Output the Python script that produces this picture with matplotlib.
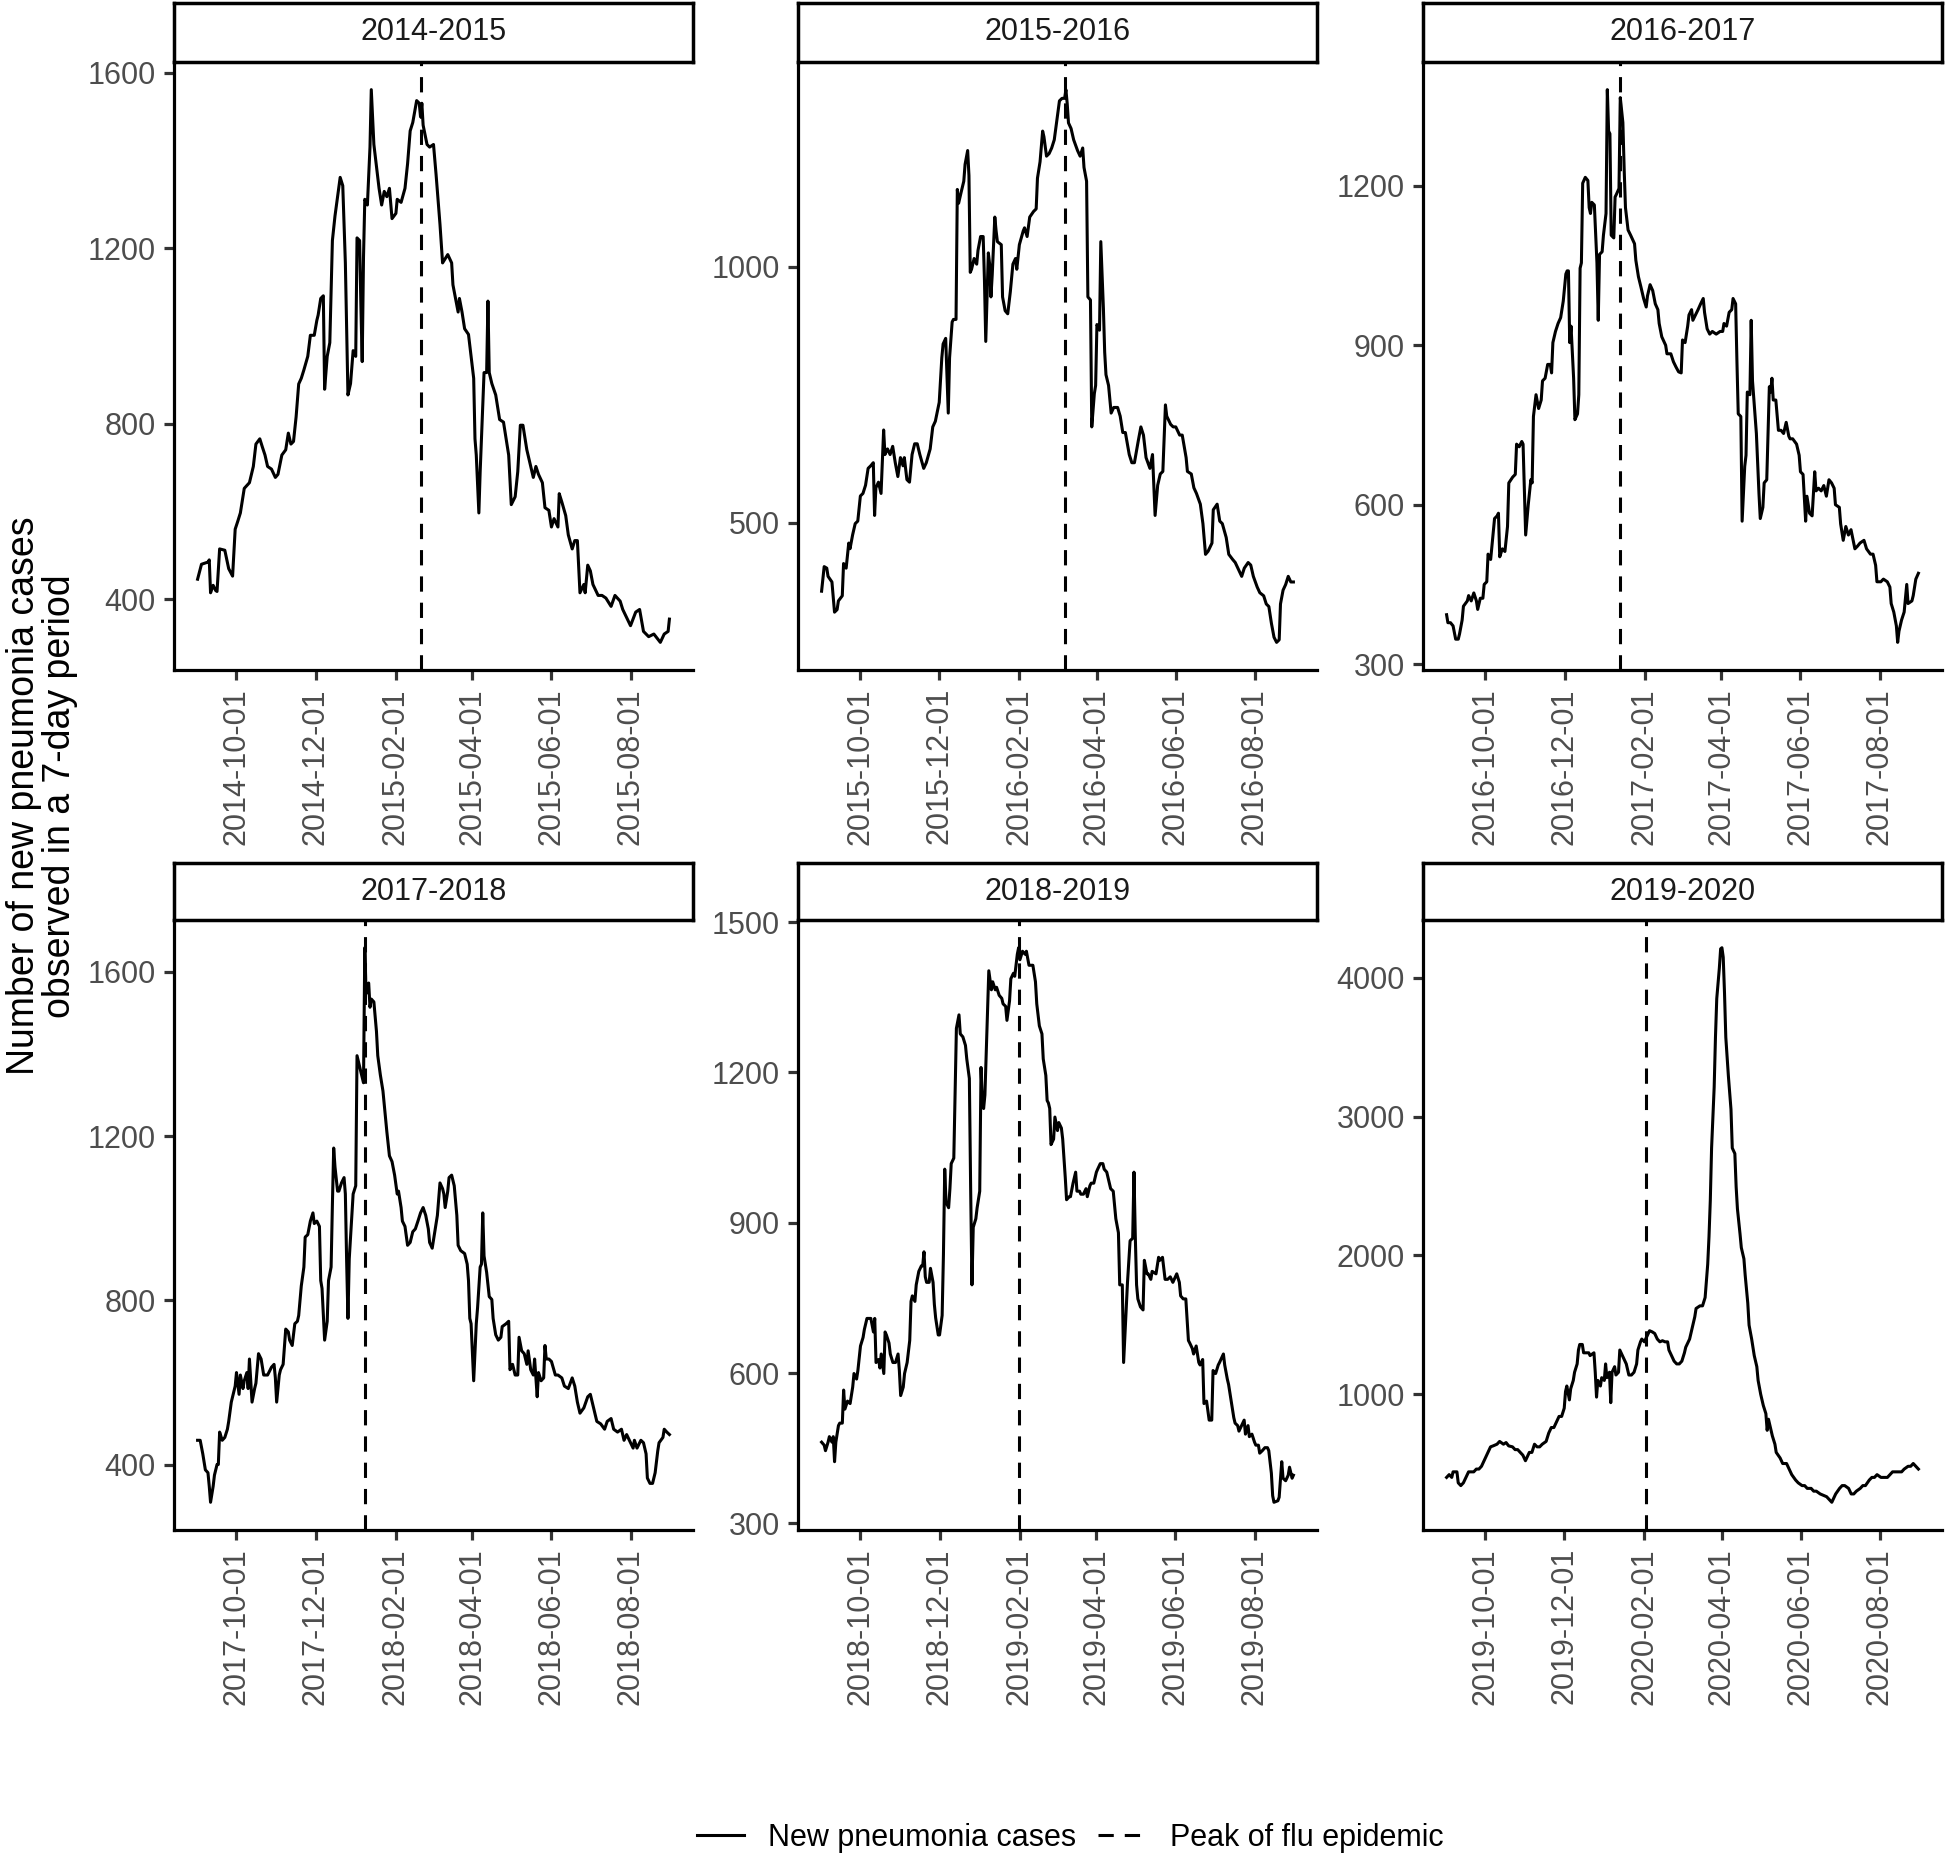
import numpy as np
import matplotlib
matplotlib.use("Agg")
import matplotlib.pyplot as plt
import matplotlib.dates as mdates
from matplotlib.lines import Line2D

plt.rcParams['font.family'] = ['Liberation Sans', 'DejaVu Sans']

seasons = ["2014-2015", "2015-2016", "2016-2017", "2017-2018", "2018-2019", "2019-2020"]
starts = ["2014-09-01", "2015-09-01", "2016-09-01", "2017-09-01", "2018-09-01", "2019-09-01"]
peaks = ["2015-02-20", "2016-03-07", "2017-01-13", "2018-01-08", "2019-01-31", "2020-02-02"]
yticks = [[400, 800, 1200, 1600], [500, 1000], [300, 600, 900, 1200],
          [400, 800, 1200, 1600], [300, 600, 900, 1200, 1500], [1000, 2000, 3000, 4000]]

# days since 1 September, and 7-day count of new pneumonia cases
days_1415 = [0, 3, 8, 9, 10, 12, 14, 15, 17, 21, 24, 27, 29, 31, 33, 36, 40, 43, 45, 48, 50, 52, 54, 57, 60, 62,
             65, 68, 70, 72, 74, 76, 78, 80, 82, 85, 87, 90, 92, 93, 95, 97, 98, 100, 102, 104, 106, 108, 110, 112,
             114, 116, 118, 120, 122, 123, 125, 126, 127, 128, 129, 131, 133, 134, 136, 138, 140, 142, 144, 146,
             148, 150, 153, 154, 157, 160, 162, 164, 166, 169, 171, 172, 173, 174, 177, 179, 182, 184, 187, 189,
             193, 196, 197, 199, 201, 202, 204, 206, 209, 211, 213, 214, 215, 217, 218, 219, 221, 223, 224, 225,
             227, 230, 233, 236, 238, 240, 242, 245, 247, 249, 251, 254, 257, 259, 261, 263, 266, 268, 271, 273,
             275, 278, 279, 281, 284, 286, 289, 291, 293, 295, 298, 299, 301, 303, 305, 309, 312, 315, 319, 322,
             326, 328, 332, 334, 338, 341, 344, 348, 352, 357, 360, 363, 364]
cases_1415 = [446, 480, 485, 490, 415, 432, 420, 418, 515, 512, 470, 453, 560, 578, 597, 653, 666, 703, 754, 766,
              747, 729, 703, 697, 678, 685, 729, 741, 779, 754, 760, 816, 891, 904, 923, 954, 1002, 1002, 1036,
              1048, 1086, 1092, 879, 954, 985, 1218, 1274, 1318, 1362, 1343, 1167, 866, 892, 967, 954, 1224, 1218,
              1067, 942, 1180, 1312, 1299, 1431, 1562, 1437, 1387, 1337, 1299, 1330, 1318, 1337, 1268, 1280, 1312,
              1305, 1337, 1393, 1468, 1487, 1537, 1531, 1500, 1531, 1481, 1437, 1431, 1437, 1368, 1255, 1167, 1186,
              1167, 1117, 1086, 1055, 1086, 1055, 1017, 1004, 954, 904, 766, 729, 597, 691, 766, 917, 917, 1080,
              917, 892, 866, 810, 804, 766, 729, 616, 634, 691, 797, 797, 741, 703, 678, 703, 685, 666, 609, 603,
              565, 584, 565, 641, 622, 591, 547, 515, 534, 534, 415, 434, 415, 478, 465, 434, 409, 409, 403, 384,
              409, 396, 377, 352, 340, 371, 377, 327, 315, 321, 302, 321, 327, 355]

days_1516 = [0, 2, 4, 5, 8, 10, 12, 13, 16, 17, 19, 21, 22, 24, 26, 28, 30, 32, 34, 36, 38, 40, 41, 42, 44, 46, 48,
             49, 51, 53, 55, 57, 59, 61, 63, 64, 66, 68, 70, 72, 74, 76, 79, 81, 84, 86, 88, 91, 93, 94, 96, 97, 98,
             99, 101, 102, 104, 105, 106, 108, 110, 111, 113, 114, 115, 116, 118, 120, 121, 123, 125, 126, 127, 128,
             129, 130, 131, 132, 134, 135, 136, 139, 140, 142, 144, 146, 148, 150, 151, 153, 156, 157, 159, 161,
             164, 166, 167, 169, 171, 172, 174, 176, 178, 180, 182, 184, 186, 188, 189, 190, 191, 193, 195, 198,
             200, 202, 203, 205, 206, 208, 209, 211, 212, 213, 215, 216, 218, 219, 220, 222, 224, 226, 229, 231,
             233, 235, 238, 240, 242, 245, 247, 249, 251, 254, 256, 257, 258, 260, 262, 264, 266, 267, 270, 272,
             274, 277, 279, 282, 283, 286, 288, 290, 293, 295, 297, 299, 302, 303, 306, 308, 310, 313, 315, 318,
             320, 322, 325, 327, 330, 332, 334, 337, 339, 342, 344, 346, 348, 350, 352, 354, 355, 357, 359, 361,
             363, 365]
cases_1516 = [366, 414, 411, 395, 384, 325, 330, 347, 357, 420, 411, 460, 449, 476, 498, 503, 552, 557, 573, 606,
              611, 617, 514, 568, 579, 557, 681, 633, 644, 633, 649, 617, 590, 627, 611, 627, 584, 579, 633, 654,
              654, 633, 606, 617, 644, 687, 698, 735, 822, 849, 860, 789, 714, 822, 892, 897, 897, 1151, 1124, 1146,
              1167, 1200, 1227, 1178, 989, 995, 1016, 1005, 1032, 1059, 1059, 973, 854, 941, 1027, 1005, 941, 984,
              1097, 1070, 1049, 1043, 941, 914, 908, 951, 1005, 1016, 995, 1043, 1070, 1076, 1059, 1097, 1108,
              1113, 1173, 1205, 1265, 1254, 1216, 1221, 1232, 1248, 1286, 1324, 1329, 1329, 1346, 1319, 1281, 1270,
              1248, 1227, 1216, 1232, 1194, 1167, 941, 935, 687, 752, 768, 887, 876, 1049, 919, 833, 789, 768, 714,
              725, 725, 708, 676, 676, 633, 617, 617, 660, 687, 671, 627, 606, 633, 573, 514, 573, 595, 600, 730,
              708, 692, 687, 687, 671, 671, 627, 600, 595, 568, 557, 536, 498, 438, 444, 460, 525, 536, 503, 498,
              471, 438, 428, 422, 411, 395, 411, 422, 417, 395, 374, 363, 357, 341, 336, 303, 276, 266, 271, 341,
              368, 379, 395, 384, 384]

days_1617 = [0, 1, 3, 5, 7, 9, 10, 12, 13, 16, 17, 19, 21, 23, 24, 26, 28, 29, 31, 32, 34, 36, 37, 39, 40, 41, 43,
             45, 47, 48, 51, 53, 54, 56, 58, 59, 60, 61, 63, 65, 66, 67, 69, 71, 73, 74, 76, 78, 80, 81, 82, 84, 86,
             88, 90, 92, 93, 94, 95, 96, 98, 99, 101, 102, 103, 104, 105, 107, 109, 110, 111, 112, 114, 116, 117,
             118, 120, 121, 123, 124, 125, 126, 127, 129, 130, 131, 133, 134, 136, 137, 138, 140, 142, 145, 146,
             148, 150, 152, 154, 155, 157, 159, 161, 163, 164, 166, 169, 170, 173, 175, 177, 179, 181, 182, 184,
             186, 187, 189, 190, 192, 194, 196, 198, 199, 201, 203, 205, 208, 211, 213, 214, 216, 218, 220, 221,
             223, 224, 225, 227, 228, 230, 231, 232, 234, 235, 236, 238, 239, 241, 242, 244, 245, 247, 249, 250,
             251, 252, 254, 256, 258, 260, 262, 264, 265, 267, 270, 272, 273, 275, 277, 278, 280, 282, 284, 285,
             287, 289, 291, 293, 295, 297, 299, 300, 303, 304, 306, 308, 310, 312, 315, 317, 319, 322, 324, 327,
             329, 331, 332, 335, 337, 340, 342, 343, 345, 347, 348, 349, 351, 353, 355, 356, 359, 360, 362, 364]
cases_1617 = [393, 378, 378, 372, 347, 347, 357, 383, 409, 419, 429, 419, 434, 419, 403, 424, 424, 450, 455, 507,
              497, 548, 574, 579, 584, 502, 517, 512, 559, 641, 652, 657, 714, 709, 719, 714, 631, 543, 600, 647,
              641, 766, 807, 781, 797, 833, 838, 864, 864, 848, 905, 926, 941, 952, 983, 1034, 1040, 1040, 905,
              936, 838, 760, 771, 807, 1045, 1055, 1205, 1216, 1210, 1159, 1148, 1169, 1164, 1055, 947, 1071, 1076,
              1107, 1148, 1381, 1303, 1298, 1107, 1102, 1179, 1184, 1195, 1366, 1319, 1231, 1159, 1117, 1107, 1091,
              1060, 1029, 1009, 988, 972, 993, 1014, 1003, 978, 967, 941, 916, 900, 884, 884, 869, 859, 850, 848,
              910, 905, 936, 957, 967, 947, 957, 967, 978, 988, 962, 931, 921, 926, 921, 926, 926, 941, 936, 962,
              967, 988, 978, 869, 771, 766, 569, 672, 693, 812, 807, 947, 833, 766, 734, 621, 574, 595, 641, 647,
              822, 812, 838, 797, 797, 740, 740, 734, 755, 729, 724, 724, 714, 693, 662, 657, 569, 616, 584, 579,
              662, 626, 631, 626, 636, 616, 647, 641, 631, 600, 595, 564, 533, 559, 543, 553, 517, 522, 528, 533,
              517, 507, 507, 486, 455, 455, 460, 455, 445, 414, 398, 372, 341, 362, 383, 398, 450, 414, 419, 429,
              460, 471]

days_1718 = [0, 2, 4, 5, 6, 8, 9, 10, 12, 13, 15, 16, 17, 19, 21, 23, 24, 26, 28, 29, 30, 32, 33, 35, 36, 38, 39,
             40, 42, 44, 45, 47, 49, 51, 52, 54, 57, 59, 60, 61, 63, 64, 66, 68, 70, 71, 73, 75, 77, 78, 80, 82, 83,
             85, 87, 89, 90, 92, 94, 95, 96, 98, 100, 101, 103, 104, 105, 106, 108, 109, 111, 113, 114, 115, 116,
             117, 119, 120, 122, 123, 125, 126, 128, 129, 130, 132, 133, 134, 136, 138, 139, 141, 143, 145, 146,
             148, 150, 152, 154, 155, 157, 158, 160, 162, 164, 166, 168, 170, 172, 174, 176, 178, 179, 181, 183,
             185, 187, 189, 190, 191, 193, 194, 196, 198, 200, 201, 203, 206, 208, 209, 210, 211, 213, 215, 216,
             218, 219, 220, 221, 223, 225, 227, 228, 230, 232, 234, 235, 238, 240, 241, 243, 245, 247, 248, 250,
             252, 254, 255, 257, 259, 260, 262, 263, 265, 267, 268, 269, 271, 273, 276, 278, 281, 283, 286, 289,
             291, 293, 295, 298, 301, 303, 306, 308, 311, 314, 316, 319, 321, 324, 327, 329, 331, 334, 336, 337,
             339, 342, 344, 346, 347, 349, 351, 353, 355, 356, 359, 360, 362, 364]
cases_1718 = [459, 459, 426, 407, 387, 380, 347, 308, 347, 374, 400, 400, 479, 459, 466, 486, 505, 552, 578, 591,
              624, 571, 618, 585, 604, 624, 585, 657, 552, 585, 598, 670, 657, 618, 618, 618, 637, 644, 611, 552,
              618, 631, 644, 730, 723, 703, 690, 743, 749, 763, 835, 881, 954, 960, 993, 1013, 987, 993, 980, 848,
              829, 703, 749, 848, 881, 1033, 1171, 1125, 1066, 1066, 1086, 1099, 1059, 894, 756, 901, 1007, 1059,
              1079, 1396, 1369, 1356, 1330, 1659, 1547, 1573, 1514, 1534, 1527, 1455, 1396, 1349, 1310, 1244, 1211,
              1152, 1138, 1105, 1059, 1066, 1026, 993, 980, 934, 941, 967, 974, 993, 1013, 1026, 1007, 974, 941,
              927, 967, 1007, 1086, 1072, 1059, 1026, 1066, 1099, 1105, 1079, 1007, 934, 921, 914, 888, 848, 756,
              743, 604, 743, 782, 881, 888, 1013, 908, 868, 809, 802, 756, 716, 703, 710, 736, 743, 749, 631, 644,
              618, 618, 710, 677, 670, 644, 677, 631, 618, 657, 565, 624, 604, 611, 690, 657, 657, 651, 618, 618,
              611, 591, 585, 611, 591, 552, 525, 538, 565, 571, 532, 505, 499, 486, 505, 512, 486, 479, 486, 459,
              473, 453, 440, 459, 440, 459, 453, 426, 367, 354, 354, 380, 433, 453, 466, 486, 479, 473]

days_1819 = [0, 2, 3, 5, 6, 8, 9, 10, 11, 13, 14, 16, 17, 18, 20, 22, 24, 25, 27, 28, 30, 32, 33, 35, 36, 38, 40,
             41, 42, 44, 45, 46, 48, 49, 50, 52, 53, 55, 57, 59, 60, 61, 63, 64, 66, 68, 69, 70, 72, 73, 75, 77, 78,
             79, 80, 81, 83, 84, 86, 87, 88, 90, 91, 93, 94, 95, 96, 98, 99, 100, 102, 103, 104, 106, 107, 109, 111,
             112, 114, 115, 116, 117, 119, 120, 122, 123, 124, 125, 126, 127, 129, 131, 132, 134, 135, 137, 139,
             140, 142, 143, 145, 146, 148, 149, 151, 152, 153, 155, 157, 158, 160, 162, 163, 165, 166, 168, 170,
             171, 173, 174, 175, 176, 177, 179, 180, 182, 183, 185, 186, 188, 189, 191, 192, 194, 196, 197, 199,
             200, 202, 204, 205, 207, 208, 210, 212, 213, 215, 217, 218, 220, 221, 223, 225, 226, 227, 229, 230,
             232, 233, 235, 236, 238, 240, 241, 242, 243, 244, 246, 248, 249, 251, 252, 254, 255, 258, 260, 261,
             263, 265, 267, 269, 271, 274, 276, 277, 279, 281, 283, 284, 286, 287, 289, 291, 292, 294, 295, 297,
             299, 301, 302, 304, 306, 307, 310, 311, 313, 314, 316, 318, 319, 321, 322, 324, 326, 327, 329, 330,
             332, 334, 335, 337, 338, 340, 342, 344, 345, 347, 348, 349, 352, 353, 355, 356, 358, 360, 361, 363,
             364]
cases_1819 = [462, 456, 445, 462, 473, 462, 473, 423, 462, 495, 500, 500, 566, 528, 544, 539, 572, 599, 588, 605,
              654, 671, 687, 709, 709, 709, 682, 709, 621, 627, 610, 638, 599, 682, 676, 660, 638, 621, 621, 638,
              605, 555, 572, 599, 621, 665, 743, 754, 743, 776, 803, 814, 814, 842, 792, 781, 781, 809, 781, 737,
              710, 676, 676, 715, 836, 1007, 941, 930, 968, 1018, 1029, 1155, 1288, 1315, 1277, 1271, 1254, 1227,
              1188, 968, 776, 891, 908, 930, 963, 1210, 1144, 1128, 1155, 1238, 1403, 1365, 1381, 1365, 1370, 1354,
              1348, 1337, 1332, 1304, 1343, 1387, 1398, 1392, 1436, 1449, 1425, 1442, 1436, 1442, 1414, 1414, 1414,
              1381, 1337, 1293, 1277, 1227, 1194, 1144, 1139, 1128, 1056, 1067, 1111, 1084, 1100, 1089, 1067, 990,
              946, 952, 952, 979, 1001, 963, 963, 957, 957, 968, 952, 974, 979, 979, 1001, 1007, 1018, 1018, 1007,
              1001, 990, 968, 963, 935, 908, 880, 776, 776, 621, 726, 781, 864, 869, 1001, 875, 776, 748, 732, 726,
              825, 798, 798, 787, 803, 798, 831, 825, 831, 787, 787, 792, 781, 798, 781, 754, 748, 748, 665, 660,
              649, 638, 654, 621, 616, 627, 539, 544, 506, 506, 605, 599, 616, 621, 638, 616, 588, 577, 544, 511,
              500, 495, 484, 495, 506, 478, 495, 473, 478, 462, 456, 456, 440, 445, 451, 451, 445, 400, 355, 342,
              345, 352, 423, 390, 385, 396, 412, 390, 396]

days_1920 = [0, 2, 4, 5, 8, 9, 11, 13, 15, 17, 19, 21, 23, 25, 27, 29, 32, 34, 36, 39, 41, 44, 46, 48, 51, 53, 55,
             57, 59, 61, 62, 64, 66, 68, 70, 72, 74, 77, 79, 81, 83, 85, 87, 89, 91, 92, 93, 95, 96, 98, 99, 101,
             102, 103, 105, 106, 108, 110, 111, 114, 115, 116, 117, 119, 120, 122, 123, 124, 126, 127, 128, 130,
             131, 133, 134, 136, 138, 139, 141, 143, 145, 147, 148, 150, 151, 153, 154, 156, 157, 159, 161, 163,
             165, 167, 169, 171, 172, 174, 176, 178, 180, 182, 184, 185, 188, 190, 192, 193, 196, 198, 200, 201,
             202, 203, 204, 205, 207, 208, 209, 211, 212, 213, 214, 215, 216, 218, 219, 220, 221, 223, 224, 225,
             227, 228, 230, 231, 233, 234, 236, 238, 240, 241, 243, 245, 247, 248, 249, 250, 252, 254, 255, 258,
             260, 263, 265, 267, 270, 272, 275, 277, 279, 282, 284, 286, 289, 292, 294, 296, 298, 299, 301, 304,
             306, 308, 311, 313, 315, 317, 320, 322, 324, 327, 329, 331, 333, 336, 338, 341, 343, 345, 347, 350,
             352, 354, 357, 359, 361, 363, 365]
cases_1920 = [402, 422, 402, 442, 442, 363, 343, 363, 402, 442, 442, 442, 462, 462, 482, 522, 582, 622, 629, 641,
              661, 641, 653, 629, 622, 602, 602, 582, 562, 522, 542, 582, 582, 641, 622, 622, 641, 661, 721, 761,
              761, 801, 841, 841, 900, 1020, 1060, 960, 1040, 1100, 1159, 1219, 1319, 1359, 1359, 1299, 1299, 1299,
              1279, 1299, 1159, 980, 1100, 1060, 1120, 1100, 1219, 1120, 1159, 940, 1159, 1199, 1139, 1159, 1319,
              1279, 1239, 1219, 1139, 1139, 1159, 1219, 1319, 1378, 1398, 1378, 1398, 1438, 1458, 1450, 1438, 1398,
              1378, 1386, 1378, 1378, 1319, 1279, 1239, 1219, 1219, 1239, 1299, 1339, 1398, 1478, 1558, 1618, 1637,
              1637, 1697, 1817, 1936, 2135, 2394, 2773, 3211, 3570, 3849, 4068, 4207, 4215, 4147, 3888, 3570, 3291,
              3171, 3052, 2773, 2733, 2494, 2335, 2155, 2056, 1976, 1857, 1657, 1498, 1398, 1279, 1199, 1100, 1000,
              920, 861, 741, 821, 781, 701, 641, 582, 542, 502, 502, 462, 422, 383, 363, 343, 343, 323, 323, 303,
              303, 283, 271, 263, 243, 223, 243, 283, 323, 343, 343, 323, 283, 283, 303, 323, 343, 343, 383, 402,
              402, 422, 402, 402, 402, 422, 442, 442, 442, 442, 462, 482, 482, 502, 482, 462]

all_days = [days_1415, days_1516, days_1617, days_1718, days_1819, days_1920]
all_cases = [cases_1415, cases_1516, cases_1617, cases_1718, cases_1819, cases_1920]

W, H = 1946, 1854
fig = plt.figure(figsize=(W / 100, H / 100), dpi=100)

col_left = [174, 798, 1423]
col_w = 519
# (strip top, axes top, axes bottom) in pixels from the top
rows = [(3, 62, 670), (863, 920, 1530)]

lw_data = 2.2
dash = (0, (5, 3.6))
for i in range(6):
    r, c = divmod(i, 3)
    st, at, ab = rows[r]
    l = col_left[c] / W
    ax = fig.add_axes([l, 1 - ab / H, col_w / W, (ab - at) / H])
    sax = fig.add_axes([l, 1 - at / H, col_w / W, (at - st) / H])

    x = np.datetime64(starts[i]) + np.array(all_days[i]).astype('timedelta64[D]')
    ax.plot(x, all_cases[i], color='black', lw=lw_data, solid_joinstyle='round')
    ax.axvline(np.datetime64(peaks[i]), color='black', lw=lw_data, linestyle=dash)

    ax.xaxis.set_major_locator(mdates.MonthLocator(bymonth=[2, 4, 6, 8, 10, 12]))
    ax.xaxis.set_major_formatter(mdates.DateFormatter('%Y-%m-%d'))
    ax.set_yticks(yticks[i])
    for s in ['top', 'right']:
        ax.spines[s].set_visible(False)
    for s in ['left', 'bottom']:
        ax.spines[s].set_linewidth(2.3)
    ax.tick_params(length=7, width=2.3, color='#333333', labelcolor='#4D4D4D', labelsize=22, pad=6)
    for lab in ax.get_xticklabels():
        lab.set_rotation(90)

    sax.set_xticks([])
    sax.set_yticks([])
    for s in sax.spines.values():
        s.set_linewidth(2.5)
    sax.text(0.5, 0.5, seasons[i], ha='center', va='center', fontsize=22, color='#1A1A1A',
             transform=sax.transAxes)

fig.text(42 / W, 1 - 796 / H, "Number of new pneumonia cases\nobserved in a 7-day period",
         rotation=90, ha='center', va='center', fontsize=27, linespacing=1.0)

handles = [Line2D([], [], color='black', lw=lw_data),
           Line2D([], [], color='black', lw=lw_data, linestyle=dash)]
fig.legend(handles, ["New pneumonia cases", "Peak of flu epidemic"], loc='center',
           bbox_to_anchor=(1070 / W, 1 - 1838 / H), ncol=2, frameon=False, fontsize=22,
           handlelength=1.55, handletextpad=0.8, columnspacing=0.7)

fig.savefig("out.png", dpi=100)
